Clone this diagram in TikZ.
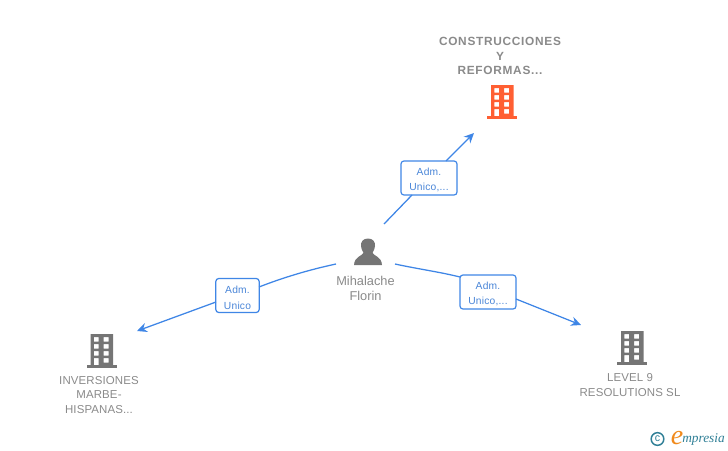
\documentclass[tikz,border=0pt]{standalone}
\usepackage{fontspec}
\setmainfont{Liberation Sans}
\newfontfamily\logofont{Liberation Serif}
\definecolor{edgeblue}{HTML}{3F86E6}
\definecolor{labblue}{HTML}{4A86D8}
\definecolor{txtgray}{HTML}{8A8A8A}
\definecolor{icongray}{HTML}{757575}
\definecolor{iconorange}{HTML}{FF5F33}
\definecolor{logoteal}{HTML}{2F7F96}
\definecolor{logoorange}{HTML}{F08A1D}
\usetikzlibrary{arrows.meta}
\newcommand{\lablines}[2]{\rule{0pt}{9pt}#1\\#2}
\tikzset{
  x=0.75pt,y=-0.75pt,
  conn/.style={draw=edgeblue,line width=0.95pt},
  arrowconn/.style={conn,-{Stealth[length=7.5pt,width=7pt,inset=2.5pt]}},
  labbox/.style={draw=edgeblue,line width=0.9pt,rounded corners=2.2pt,fill=white,minimum width=#1,minimum height=25.5pt,inner sep=0pt,align=center,text=labblue,font=\fontsize{7.7pt}{11.4pt}\selectfont\addfontfeature{LetterSpace=2}},
  nametext/.style={inner sep=0pt,align=center,text=txtgray,font=\fontsize{8.6pt}{11pt}\selectfont\addfontfeature{LetterSpace=1}},
  boldname/.style={inner sep=0pt,align=center,text=txtgray,font=\fontsize{8.9pt}{11pt}\selectfont\bfseries\addfontfeature{LetterSpace=6}},
  building/.pic={
    \fill[pic actions,even odd rule]
      (-11,-16) rectangle (11.5,15)
      (-7.7,-13) rectangle (-2.8,-8.5) (2,-13) rectangle (7,-8.5)
      (-7.7,-6) rectangle (-2.8,-1.5) (2,-6) rectangle (7,-1.5)
      (-7.7,1) rectangle (-2.8,5.5) (2,1) rectangle (7,5.5)
      (-7.7,8) rectangle (-2.8,15) (2,8) rectangle (7,12.5);
    \fill[pic actions] (-15,15) rectangle (15,17.5);
  }
}
\begin{document}
\begin{tikzpicture}
\useasboundingbox (0,0) rectangle (728,450);
% icons
\pic[fill=iconorange] at (502,101) {building};
\pic[fill=icongray] at (101.5,350) {building};
\pic[fill=icongray] at (632,347) {building};
\fill[icongray] (368,238.5) .. controls (373,238.5) and (375.5,242) .. (375,246) .. controls (374.5,250) and (373,251.5) .. (372.5,253) .. controls (374,256) and (381.5,256.5) .. (382,265) -- (354,265) .. controls (354.5,256.5) and (362,256) .. (363.5,253) .. controls (363,251.5) and (361.5,250) .. (361,246) .. controls (360.5,242) and (363,238.5) .. (368,238.5) -- cycle;
% named nodes
\node[boldname] (top) at (500,56) {CONSTRUCCIONES\\Y\\REFORMAS...};
\node[nametext] (left) at (99,395) {INVERSIONES\\MARBE-\\HISPANAS...};
\node[nametext] (right) at (630,385) {LEVEL 9\\RESOLUTIONS SL};
\node[nametext,font=\fontsize{9.6pt}{11.2pt}\selectfont] (person) at (365.5,288) {Mihalache\\Florin};
\node[labbox=42pt] (b1) at (429,178) {\lablines{Adm.}{Unico,...}};
\node[labbox=32.5pt] (b2) at (237.5,295.5) {\lablines{Adm.}{Unico}};
\node[labbox=42pt] (b3) at (488,292) {\lablines{Adm.}{Unico,...}};
% free ends
\coordinate (s1) at (384,224);
\coordinate (s2) at (336,264);
\coordinate (s3) at (395,264);
\coordinate (e1) at (474,133);
\coordinate (e2) at (137,331);
\coordinate (e3) at (581,325);
\coordinate (b1a) at (412,195);
\coordinate (b1b) at (446,161);
\coordinate (b2a) at (259,287);
\coordinate (b2b) at (216,302);
\coordinate (b3a) at (460,277);
\coordinate (b3b) at (516,299);
% connectors
\draw[conn] (s1) -- (b1a);
\draw[arrowconn] (b1b) -- (e1);
\draw[conn] (s2) .. controls (308,270) and (282,278) .. (b2a);
\draw[arrowconn] (b2b) -- (e2);
\draw[conn] (s3) .. controls (418,269) and (440,272) .. (b3a);
\draw[arrowconn] (b3b) -- (e3);
% logo
\node[circle,draw=logoteal,line width=1.1pt,minimum size=9.5pt,inner sep=0pt,text=logoteal,font=\fontsize{8pt}{8pt}\selectfont] (copy) at (657.5,439) {c};
\node[inner sep=0pt,text=logoorange,font=\logofont\fontsize{21pt}{21pt}\selectfont\itshape] (loge) at (677,438) {e};
\node[inner sep=0pt,text=logoteal,anchor=west,font=\logofont\fontsize{10pt}{10pt}\selectfont\itshape] (logt) at (682,439.5) {mpresia};
\end{tikzpicture}
\end{document}
